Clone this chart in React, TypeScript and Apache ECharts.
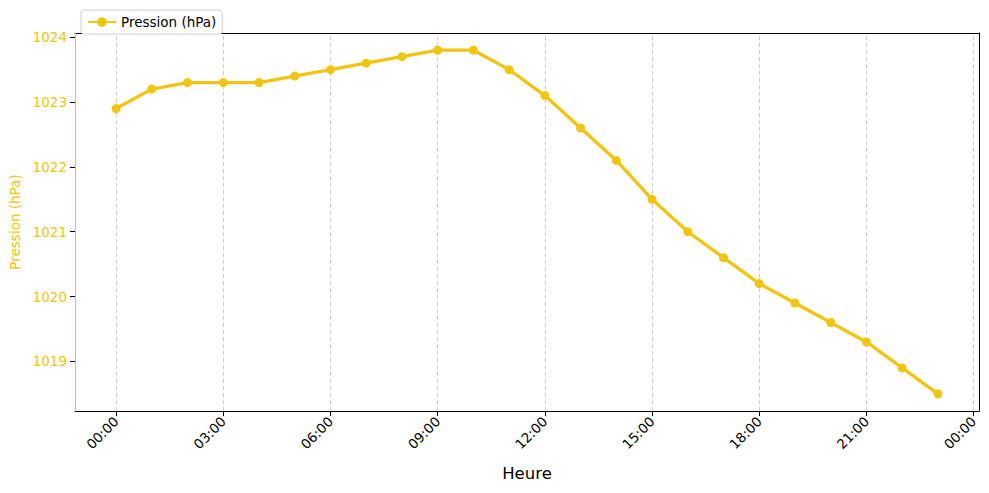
import { useEffect, useRef } from "react";
import * as echarts from "echarts";

const hours = [0, 1, 2, 3, 4, 5, 6, 7, 8, 9, 10, 11, 12, 13, 14, 15, 16, 17, 18, 19, 20, 21, 22, 23];
const pressure = [
  1022.9, 1023.2, 1023.3, 1023.3, 1023.3, 1023.4, 1023.5, 1023.6, 1023.7, 1023.8, 1023.8, 1023.5,
  1023.1, 1022.6, 1022.1, 1021.5, 1021.0, 1020.6, 1020.2, 1019.9, 1019.6, 1019.3, 1018.9, 1018.5,
];
const xTicks = [0, 3, 6, 9, 12, 15, 18, 21, 24];
const yTicks = [1019, 1020, 1021, 1022, 1023, 1024];

const YELLOW = "#f1c40f";
const FONT = "DejaVu Sans";
const X_MIN = -1.15;
const X_MAX = 24.15;
const Y_MIN = 1018.235;
const Y_MAX = 1024.065;

const fmtHour = (v: number) => `${String(Math.round(v) % 24).padStart(2, "0")}:00`;

// plain spine for top / right edges of the frame
const spine = (extra: object) => ({
  type: "value",
  axisLine: { show: true, onZero: false, lineStyle: { color: "#000", width: 1 } },
  axisTick: { show: false },
  axisLabel: { show: false },
  splitLine: { show: false },
  ...extra,
});

export default function App() {
  const chartRef = useRef<HTMLDivElement | null>(null);

  useEffect(() => {
    if (!chartRef.current) return;
    const chart = echarts.init(chartRef.current, null, { renderer: "svg" });

    chart.setOption({
      animation: false,
      backgroundColor: "#fff",
      textStyle: { fontFamily: FONT },
      grid: {
        left: 75,
        right: 10,
        top: 33,
        bottom: 82,
        containLabel: false,
        outerBoundsMode: "none",
        show: false,
      },
      legend: {
        left: 81,
        top: 10,
        padding: [5, 6],
        itemWidth: 28,
        itemHeight: 12,
        itemGap: 8,
        backgroundColor: "#fff",
        borderColor: "#d0d0d0",
        borderWidth: 1,
        borderRadius: 3,
        textStyle: { fontFamily: FONT, fontSize: 13.5, color: "#000" },
        data: ["Pression (hPa)"],
      },
      xAxis: [
        {
          type: "value",
          min: X_MIN,
          max: X_MAX,
          name: "Heure",
          nameLocation: "middle",
          nameGap: 54,
          nameTextStyle: { fontFamily: FONT, fontSize: 16.5, color: "#000" },
          axisLine: { show: true, onZero: false, lineStyle: { color: "#000", width: 1 } },
          axisTick: {
            show: true,
            inside: false,
            length: 5,
            customValues: xTicks,
            lineStyle: { color: "#000" },
          },
          axisLabel: {
            customValues: xTicks,
            rotate: 45,
            margin: 8,
            fontFamily: FONT,
            fontSize: 13.5,
            color: "#000",
            formatter: (v: number) => fmtHour(v),
          },
          splitLine: { show: false },
        },
        spine({ position: "top", min: X_MIN, max: X_MAX }),
      ],
      yAxis: [
        {
          type: "value",
          min: Y_MIN,
          max: Y_MAX,
          name: "Pression (hPa)",
          nameLocation: "middle",
          nameGap: 52,
          nameTextStyle: { fontFamily: FONT, fontSize: 13.5, color: YELLOW },
          axisLine: { show: true, onZero: false, lineStyle: { color: YELLOW, width: 1 } },
          axisTick: {
            show: true,
            inside: false,
            length: 5,
            customValues: yTicks,
            lineStyle: { color: "#000" },
          },
          axisLabel: {
            customValues: yTicks,
            margin: 8,
            fontFamily: FONT,
            fontSize: 13.5,
            color: YELLOW,
            formatter: (v: number) => String(Math.round(v)),
          },
          splitLine: { show: false },
          z: 5,
        },
        spine({ position: "right", min: Y_MIN, max: Y_MAX }),
      ],
      series: [
        {
          name: "Pression (hPa)",
          type: "line",
          data: hours.map((h, i) => [h, pressure[i]]),
          symbol: "circle",
          symbolSize: 9,
          itemStyle: { color: YELLOW },
          lineStyle: { color: YELLOW, width: 3.3 },
          z: 3,
          markLine: {
            silent: true,
            symbol: "none",
            label: { show: false },
            lineStyle: { color: "#cccccc", type: [4, 3], width: 1 },
            data: xTicks.map((t) => ({ xAxis: t })),
            z: 1,
          },
        },
      ],
    });

    return () => chart.dispose();
  }, []);

  return (
    <div
      ref={chartRef}
      style={{ position: "fixed", left: 0, top: 0, width: "989px", height: "493px" }}
    />
  );
}
